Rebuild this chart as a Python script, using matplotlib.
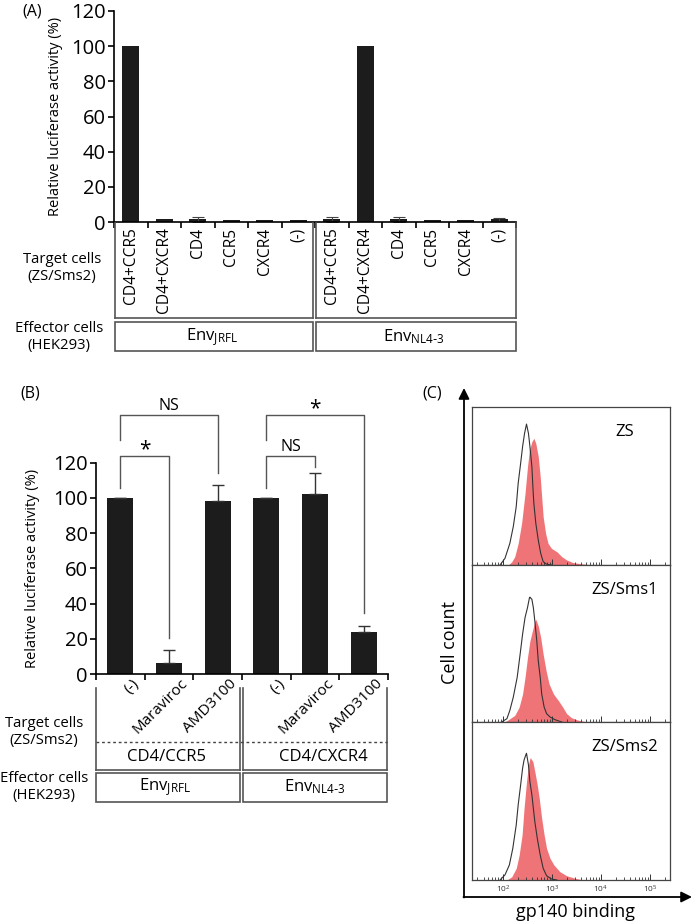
import numpy as np
import matplotlib
matplotlib.use('Agg')
import matplotlib.pyplot as plt
import matplotlib.transforms as mtransforms
from matplotlib.ticker import LogLocator, NullFormatter

plt.rcParams['font.family'] = ['Open Sans', 'DejaVu Sans']
plt.rcParams['mathtext.default'] = 'regular'

# Panel A: fusion with different receptor combinations
cats_a = ['CD4+CCR5', 'CD4+CXCR4', 'CD4', 'CCR5', 'CXCR4', '(-)',
          'CD4+CCR5', 'CD4+CXCR4', 'CD4', 'CCR5', 'CXCR4', '(-)']
vals_a = [100, 1.8, 1.5, 1.2, 1.2, 1.2,
          1.5, 100, 1.5, 0.9, 0.9, 1.5]
err_a = [0, 0, 1.5, 0, 0, 0,
         1.5, 0, 1.5, 0, 0, 1.0]

# Panel B: inhibitors
cats_b = ['(-)', 'Maraviroc', 'AMD3100', '(-)', 'Maraviroc', 'AMD3100']
vals_b = [100, 6, 98, 100, 102, 24]
err_b = [0, 7.5, 9.5, 0, 12, 3]
# significance brackets: (left bar, right bar, left leg end, top, right leg end, label)
brackets_b = [(0, 1, 105.7, 124, 20.5, '*'),
              (0, 2, 133, 147, 114, 'NS'),
              (3, 4, 105.7, 124, 117.6, 'NS'),
              (3, 5, 133, 147, 34.7, '*')]

# Panel C: flow cytometry histograms (log10 intensity, % of max height)
names_c = ['ZS', 'ZS/Sms1', 'ZS/Sms2']
ctrl_x = [
    [1.94, 2.04, 2.14, 2.21, 2.27, 2.31, 2.36, 2.40, 2.44, 2.48, 2.52, 2.55, 2.59, 2.61, 2.63, 2.67, 2.72, 2.77, 2.82, 2.89, 2.99],
    [1.97, 2.08, 2.14, 2.21, 2.29, 2.35, 2.40, 2.45, 2.50, 2.54, 2.55, 2.59, 2.62, 2.65, 2.69, 2.72, 2.76, 2.79, 2.84, 2.89, 2.96, 3.06, 3.20],
    [1.94, 2.04, 2.13, 2.20, 2.27, 2.31, 2.36, 2.40, 2.43, 2.47, 2.48, 2.52, 2.55, 2.59, 2.62, 2.65, 2.70, 2.76, 2.82, 2.89, 2.99, 3.10],
]
ctrl_y = [
    [0, 4.2, 13.7, 24.3, 36.9, 51.7, 64.3, 74.9, 83.3, 89.2, 83.3, 74.9, 62.2, 49.6, 39.0, 26.4, 15.8, 7.4, 2.1, 0.5, 0],
    [0, 2.1, 7.4, 15.8, 28.5, 43.2, 55.9, 66.5, 72.8, 79.1, 79.5, 78.1, 72.8, 64.3, 51.7, 39.0, 28.5, 17.9, 9.5, 5.3, 3.2, 1.5, 0],
    [0, 3.2, 9.5, 20.0, 34.8, 47.5, 60.1, 70.7, 75.9, 79.5, 80.2, 72.8, 62.2, 53.8, 45.4, 36.9, 26.4, 15.8, 7.4, 2.7, 0.6, 0],
]
gp_x = [
    [2.11, 2.18, 2.24, 2.31, 2.38, 2.45, 2.50, 2.54, 2.59, 2.63, 2.67, 2.72, 2.76, 2.79, 2.82, 2.87, 2.92, 2.99, 3.10, 3.20, 3.30, 3.43, 3.64, 3.84],
    [2.04, 2.14, 2.24, 2.33, 2.40, 2.45, 2.50, 2.55, 2.60, 2.65, 2.67, 2.72, 2.77, 2.82, 2.88, 2.94, 3.03, 3.13, 3.22, 3.30, 3.40, 3.54, 3.71],
    [2.08, 2.18, 2.27, 2.33, 2.39, 2.43, 2.48, 2.52, 2.55, 2.56, 2.61, 2.65, 2.70, 2.74, 2.79, 2.84, 2.89, 2.96, 3.04, 3.16, 3.30, 3.47, 3.64],
]
gp_y = [
    [0, 2.1, 5.3, 13.7, 26.4, 45.4, 62.2, 72.8, 78.1, 80.2, 77.0, 68.6, 55.9, 43.2, 30.6, 20.0, 13.7, 10.5, 8.4, 5.3, 3.2, 1.5, 0.6, 0],
    [0, 2.1, 4.2, 9.5, 17.9, 28.5, 41.1, 51.7, 58.0, 64.3, 65.4, 61.2, 53.8, 43.2, 32.7, 24.3, 17.9, 13.7, 9.5, 5.3, 2.7, 1.1, 0],
    [0, 2.1, 7.4, 15.8, 28.5, 45.4, 62.2, 72.8, 77.0, 77.4, 74.9, 68.6, 60.1, 51.7, 39.0, 28.5, 20.0, 13.7, 9.5, 5.3, 2.7, 1.1, 0],
]

W, H = 693, 923
fig = plt.figure(figsize=(W / 100, H / 100), dpi=100)


def box(l, t, r, b):
    return [l / W, 1 - b / H, (r - l) / W, (b - t) / H]


def bar_axes(ax, n):
    ax.set_xlim(-0.5, n - 0.5)
    ax.set_ylim(0, 120)
    ax.set_yticks(range(0, 121, 20))
    ax.set_xticks(np.arange(-0.5, n, 1))
    ax.set_xticklabels([])
    ax.tick_params(axis='both', which='major', length=4, width=1.2, labelsize=14.5, direction='out', pad=2)
    for s in ['top', 'right']:
        ax.spines[s].set_visible(False)
    for s in ['left', 'bottom']:
        ax.spines[s].set_linewidth(1.2)
    ax.patch.set_alpha(0)


# ---- Panel A
axA = fig.add_axes(box(114, 11, 516, 222))
xa = np.arange(len(cats_a))
axA.bar(xa, vals_a, width=0.5, color='#1c1c1c')
for i in range(len(xa)):
    if err_a[i] > 0:
        axA.errorbar(xa[i], vals_a[i], yerr=err_a[i], color='#444', capsize=4, lw=0.8, capthick=0.8)
bar_axes(axA, len(cats_a))
axA.set_xticks(xa, minor=True)
axA.set_xticklabels(cats_a, minor=True, fontsize=11.2, rotation=90)
axA.tick_params(axis='x', which='minor', length=0, pad=4)
axA.set_ylabel('Relative luciferase activity (%)', fontsize=10.5)
axA.yaxis.set_label_coords((63 - 114) / 402, 0.5)

# ---- Panel B
axB = fig.add_axes(box(96, 462.7, 388, 674))
xb = np.arange(len(cats_b))
axB.bar(xb, vals_b, width=0.53, color='#1c1c1c')
axB.errorbar(xb, vals_b, yerr=[np.zeros(len(err_b)), err_b], fmt='none',
             ecolor='#333', capsize=4.5, lw=1, capthick=1)
bar_axes(axB, len(cats_b))
lab_tr = axB.get_xaxis_transform() + mtransforms.ScaledTranslation(11 / 100, -2 / 100, fig.dpi_scale_trans)
for x, lab in zip(xb, cats_b):
    axB.text(x, 0, lab, transform=lab_tr, rotation=45, rotation_mode='anchor',
             ha='right', va='top', fontsize=11)
axB.set_ylabel('Relative luciferase activity (%)', fontsize=10.5)
axB.yaxis.set_label_coords((40 - 96) / 292, 0.5)
for x1, x2, yl, top, yr, lab in brackets_b:
    axB.plot([x1, x1, x2, x2], [yl, top, top, yr], color='#555', lw=1, clip_on=False)
    if lab == '*':
        axB.text((x1 + x2) / 2, top + 3.5, lab, ha='center', va='center', fontsize=15)
    else:
        axB.text((x1 + x2) / 2, top + 5, lab, ha='center', va='center', fontsize=11.5)

# ---- Panel C
tops = [407, 565, 722, 880]
xlo, xhi = 10 ** 1.361, 10 ** 5.41
for i in range(3):
    ax = fig.add_axes(box(471.7, tops[i], 670, tops[i + 1]))
    ax.fill_between(10 ** np.array(gp_x[i]), gp_y[i], color='#ef6d71', lw=0, alpha=0.95)
    ax.plot(10 ** np.array(ctrl_x[i]), ctrl_y[i], color='#333', lw=0.8)
    ax.set_xscale('log')
    ax.set_xlim(xlo, xhi)
    ax.set_ylim(0, 100)
    ax.set_yticks([])
    ax.xaxis.set_major_locator(LogLocator(base=10, numticks=10))
    ax.xaxis.set_minor_locator(LogLocator(base=10, subs=np.arange(2, 10), numticks=20))
    ax.xaxis.set_minor_formatter(NullFormatter())
    ax.tick_params(axis='x', which='major', direction='in', length=4, width=0.7, labelsize=6, pad=3, colors='#333')
    ax.tick_params(axis='x', which='minor', direction='in', length=2.5, width=0.6, colors='#333')
    if i < 2:
        ax.set_xticklabels([])
    for s in ax.spines.values():
        s.set_linewidth(0.9)
        s.set_color('#444')
    ax.text(0.77, 0.84, names_c[i], transform=ax.transAxes, ha='center', va='center', fontsize=12)

# ---- overlay with the label tables, arrows and panel letters
ov = fig.add_axes([0, 0, 1, 1], zorder=10)
ov.set_xlim(0, W)
ov.set_ylim(H, 0)
ov.axis('off')
lc = '#555'
lw = 1.2

# A tables
for x in [115, 313, 316, 516]:
    ov.plot([x, x], [223, 318], color=lc, lw=lw)
ov.plot([115, 313], [318, 318], color=lc, lw=lw)
ov.plot([316, 516], [318, 318], color=lc, lw=lw)
for l, r in [(115, 313), (316, 516)]:
    ov.add_patch(plt.Rectangle((l, 322), r - l, 29, fill=False, ec=lc, lw=lw))
ov.text(212, 337, r'Env$_{\mathregular{JRFL}}$', ha='center', va='center', fontsize=12)
ov.text(414, 337, r'Env$_{\mathregular{NL4\text{-}3}}$', ha='center', va='center', fontsize=12)
ov.text(62, 268, 'Target cells\n(ZS/Sms2)', ha='center', va='center', fontsize=10.7, linespacing=1.1)
ov.text(59, 337, 'Effector cells\n(HEK293)', ha='center', va='center', fontsize=10.7, linespacing=1.1)

# B tables
for x in [96, 240, 243, 387]:
    ov.plot([x, x], [688, 770], color=lc, lw=lw)
ov.plot([96, 240], [770, 770], color=lc, lw=lw)
ov.plot([243, 387], [770, 770], color=lc, lw=lw)
ov.plot([96, 387], [742, 742], color='#444', lw=1, ls=(0, (2, 2)))
for l, r in [(96, 240), (243, 387)]:
    ov.add_patch(plt.Rectangle((l, 773), r - l, 29, fill=False, ec=lc, lw=lw))
ov.text(167, 757, 'CD4/CCR5', ha='center', va='center', fontsize=12)
ov.text(323, 757, 'CD4/CXCR4', ha='center', va='center', fontsize=12)
ov.text(165, 787, r'Env$_{\mathregular{JRFL}}$', ha='center', va='center', fontsize=12)
ov.text(315, 787, r'Env$_{\mathregular{NL4\text{-}3}}$', ha='center', va='center', fontsize=12)
ov.text(44, 732, 'Target cells\n(ZS/Sms2)', ha='center', va='center', fontsize=10.7, linespacing=1.1)
ov.text(44, 787, 'Effector cells\n(HEK293)', ha='center', va='center', fontsize=10.7, linespacing=1.1)

# C arrows and labels
ov.annotate('', xy=(464, 388), xytext=(464, 897.5),
            arrowprops=dict(arrowstyle='-|>', color='k', lw=1.3, mutation_scale=16, shrinkA=0, shrinkB=0))
ov.annotate('', xy=(692, 897), xytext=(463.5, 897),
            arrowprops=dict(arrowstyle='-|>', color='k', lw=1.3, mutation_scale=16, shrinkA=0, shrinkB=0))
ov.text(450, 643, 'Cell count', rotation=90, ha='center', va='center', fontsize=13)
ov.text(575, 912, 'gp140 binding', ha='center', va='center', fontsize=13)

ov.text(32, 11, '(A)', ha='center', va='center', fontsize=11.5)
ov.text(30, 393, '(B)', ha='center', va='center', fontsize=11.5)
ov.text(432, 393, '(C)', ha='center', va='center', fontsize=11.5)

fig.savefig('out.png', dpi=100)
